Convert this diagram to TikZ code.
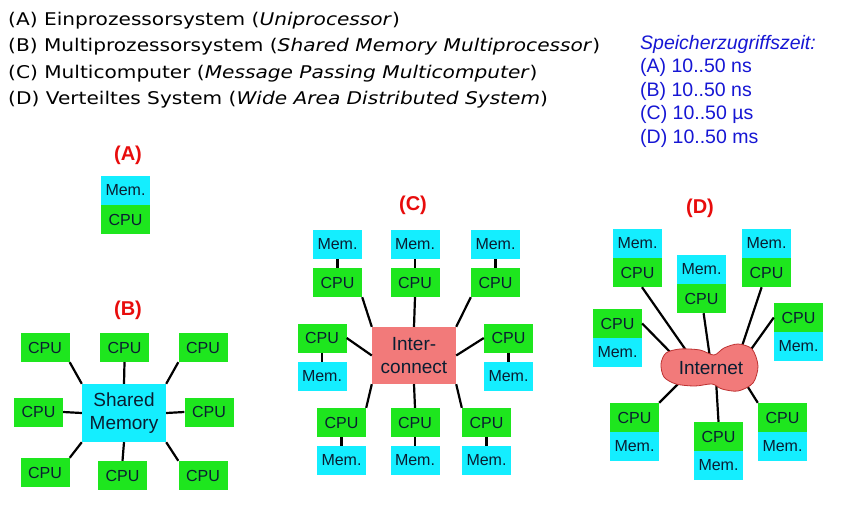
\documentclass[tikz,border=0pt]{standalone}
\usepackage{fontspec}
\setmainfont{Liberation Sans}
\newfontfamily\verdana[FakeStretch=1.15]{DejaVu Sans}
\usepackage{xcolor}
\usepackage{tikz}
\definecolor{memcyan}{RGB}{20,238,255}
\definecolor{cpugreen}{RGB}{30,230,30}
\definecolor{netred}{RGB}{242,122,122}
\definecolor{netedge}{RGB}{190,50,50}
\definecolor{labelred}{RGB}{232,12,12}
\definecolor{zeitblue}{RGB}{22,22,212}
\definecolor{boxtext}{RGB}{10,30,50}
\tikzset{
  box/.style={minimum width=49pt, minimum height=29pt, inner sep=0pt, text=boxtext, font=\fontsize{16}{18}\selectfont},
  mem/.style={box, fill=memcyan},
  cpu/.style={box, fill=cpugreen},
  hub/.style={minimum width=84pt, inner sep=0pt, align=center, text=boxtext, font=\fontsize{19}{23}\selectfont},
  syslabel/.style={text=labelred, font=\fontsize{20}{22}\selectfont\bfseries},
  link/.style={line width=2.2pt, black},
  hdr/.style={anchor=base west, inner sep=0pt, font=\verdana\fontsize{17.5}{20}\selectfont},
  zeit/.style={anchor=base west, inner sep=0pt, text=zeitblue, font=\fontsize{19.5}{22}\selectfont},
}

\begin{document}
\begin{tikzpicture}[x=1pt,y=-1pt]
\fill[white,use as bounding box] (0,0) rectangle (846,504);

% legend
\node[hdr] (hA) at (8,25.8) {(A) Einprozessorsystem (\textit{Uniprocessor})};
\node[hdr] (hB) at (8,51.8) {(B) Multiprozessorsystem (\textit{Shared Memory Multiprocessor})};
\node[hdr] (hC) at (8,78) {(C) Multicomputer (\textit{Message Passing Multicomputer})};
\node[hdr] (hD) at (8,104) {(D) Verteiltes System (\textit{Wide Area Distributed System})};

% access times
\node[zeit] (z0) at (640,49) {\textit{Speicherzugriffszeit:}};
\node[zeit] (zA) at (640,72.5) {(A) 10..50 ns};
\node[zeit] (zB) at (640,96) {(B) 10..50 ns};
\node[zeit] (zC) at (640,119.5) {(C) 10..50 µs};
\node[zeit] (zD) at (640,143) {(D) 10..50 ms};

% (A) uniprocessor
\node[syslabel] (labA) at (128,155) {(A)};
\node[mem] (amem) at (125.5,190.5) {Mem.};
\node[cpu] (acpu) at (125.5,219.5) {CPU};

% (B) shared memory
\node[syslabel] (labB) at (128,310) {(B)};
\node[hub, fill=memcyan, minimum height=58pt] (sm) at (124,413) {Shared\\Memory};
\node[cpu] (b1) at (45,347.5) {CPU};
\node[cpu] (b2) at (124.5,347.5) {CPU};
\node[cpu] (b3) at (203,347.5) {CPU};
\node[cpu] (b4) at (38.5,412) {CPU};
\node[cpu] (b5) at (209,412) {CPU};
\node[cpu] (b6) at (45,472.5) {CPU};
\node[cpu] (b7) at (122.5,475.5) {CPU};
\node[cpu] (b8) at (203,475.5) {CPU};
\draw[link] (b1.south east) -- (sm.north west);
\draw[link] (b2.south) -- (sm.north);
\draw[link] (b3.south west) -- (sm.north east);
\draw[link] (b4.east) -- (sm.west);
\draw[link] (b5.west) -- (sm.east);
\draw[link] (b6.north east) -- (sm.south west);
\draw[link] (b7.north) -- (sm.south);
\draw[link] (b8.north west) -- (sm.south east);

% (C) message passing
\node[syslabel] (labC) at (413,205) {(C)};
\node[hub, fill=netred, minimum height=57pt] (ic) at (414,355.5) {Inter-\\connect};
\node[mem] (c1m) at (337.5,244.5) {Mem.};
\node[cpu] (c1) at (337.5,282.5) {CPU};
\node[mem] (c2m) at (415,244.5) {Mem.};
\node[cpu] (c2) at (415,282.5) {CPU};
\node[mem] (c3m) at (495.5,244.5) {Mem.};
\node[cpu] (c3) at (495.5,282.5) {CPU};
\node[cpu] (c4) at (322,338) {CPU};
\node[mem] (c4m) at (322,376.5) {Mem.};
\node[cpu] (c5) at (508.5,338) {CPU};
\node[mem] (c5m) at (508.5,376.5) {Mem.};
\node[cpu] (c6) at (341.5,422.5) {CPU};
\node[mem] (c6m) at (341.5,460.5) {Mem.};
\node[cpu] (c7) at (415,422.5) {CPU};
\node[mem] (c7m) at (415,460.5) {Mem.};
\node[cpu] (c8) at (486.5,422.5) {CPU};
\node[mem] (c8m) at (486.5,460.5) {Mem.};
\draw[link] (c1m) -- (c1) (c2m) -- (c2) (c3m) -- (c3) (c4) -- (c4m)
  (c5) -- (c5m) (c6) -- (c6m) (c7) -- (c7m) (c8) -- (c8m);
\draw[link] (c1.south east) -- (ic.north west);
\draw[link] (c2.south) -- (ic.north);
\draw[link] (c3.south west) -- (ic.north east);
\draw[link] (c4.east) -- (ic.west);
\draw[link] (c5.west) -- (ic.east);
\draw[link] (c6.north east) -- (ic.south west);
\draw[link] (c7.north) -- (ic.south);
\draw[link] (c8.north west) -- (ic.south east);

% (D) wide area
\node[syslabel] (labD) at (700,208) {(D)};
\node[mem] (d1m) at (637.5,243.5) {Mem.};
\node[cpu] (d1) at (637.5,272.5) {CPU};
\node[mem] (d2m) at (701.5,269.5) {Mem.};
\node[cpu] (d2) at (701.5,298.5) {CPU};
\node[mem] (d3m) at (766.5,243.5) {Mem.};
\node[cpu] (d3) at (766.5,272.5) {CPU};
\node[cpu] (d4) at (617.5,323.5) {CPU};
\node[mem] (d4m) at (617.5,352.5) {Mem.};
\node[cpu] (d5) at (798.5,317.5) {CPU};
\node[mem] (d5m) at (798.5,346.5) {Mem.};
\node[cpu] (d6) at (634.5,417.5) {CPU};
\node[mem] (d6m) at (634.5,446.5) {Mem.};
\node[cpu] (d7) at (718.5,436.5) {CPU};
\node[mem] (d7m) at (718.5,465.5) {Mem.};
\node[cpu] (d8) at (782.5,417.5) {CPU};
\node[mem] (d8m) at (782.5,446.5) {Mem.};
\coordinate (n1) at (690,356);
\coordinate (n2) at (710,358);
\coordinate (n3) at (741,349);
\coordinate (n4) at (676,358);
\coordinate (n5) at (747,355);
\coordinate (n6) at (681,381);
\coordinate (n7) at (716,380);
\coordinate (n8) at (746,384);
\draw[link] (d1.-73) -- (n1);
\draw[link] (d2) -- (n2);
\draw[link] (d3) -- (n3);
\draw[link] (d4.east) -- (n4);
\draw[link] (d5.west) -- (n5);
\draw[link] (d6.north east) -- (n6);
\draw[link] (d7.north) -- (n7);
\draw[link] (d8.north west) -- (n8);
\draw[netedge, fill=netred, line width=0.8pt] plot[smooth cycle] coordinates {
  (661,364) (666,353) (680,349) (700,350) (714,355) (724,348) (738,344) (752,349)
  (758,366) (753,383) (738,391) (722,389) (712,384) (695,386) (676,384) (664,377)};
\node[hub] (inet) at (711,368) {Internet};
\end{tikzpicture}
\end{document}
